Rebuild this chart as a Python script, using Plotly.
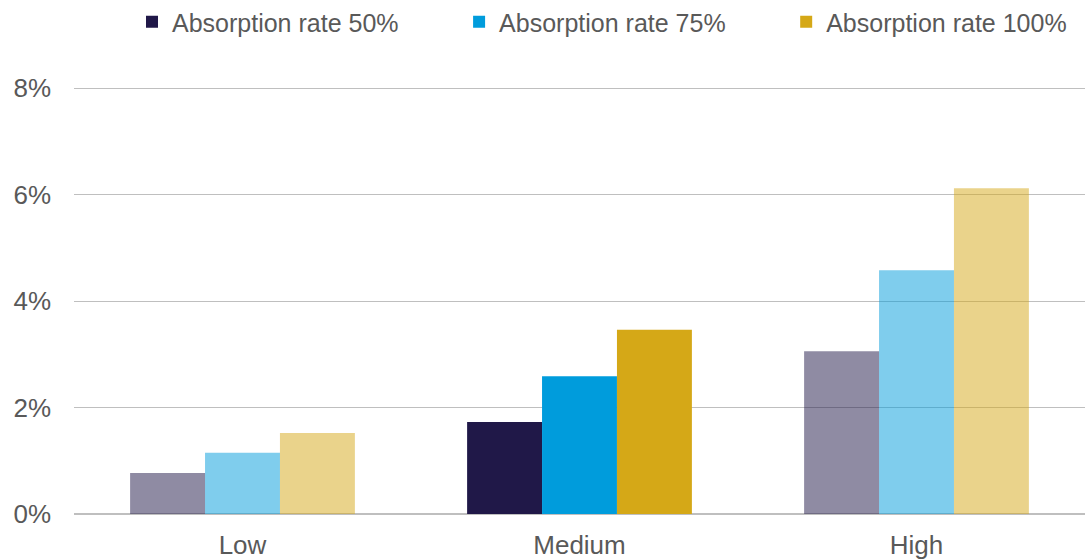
import plotly.graph_objects as go

categories = ["Low", "Medium", "High"]
series_names = ["Absorption rate 50%", "Absorption rate 75%", "Absorption rate 100%"]
rate_50 = [0.77, 1.73, 3.06]
rate_75 = [1.15, 2.59, 4.58]
rate_100 = [1.52, 3.46, 6.12]
tick_vals = [0, 2, 4, 6, 8]
tick_text = ["0%", "2%", "4%", "6%", "8%"]

base_rgb = [(32, 24, 72), (0, 156, 220), (213, 168, 23)]
point_alpha = [0.5, 1.0, 0.5]  # Low & High faded, Medium solid

FONT = "Liberation Sans, Arial, sans-serif"
TXT = "#595959"

# Feed the solid (Medium) point first so the legend swatch is the solid colour;
# the category axis still orders Low, Medium, High.
order = [1, 0, 2]
pad = "\u00a0" * 8

fig = go.Figure()
all_vals = [rate_50, rate_75, rate_100]
for k, (name, vals, rgb) in enumerate(zip(series_names, all_vals, base_rgb)):
    cols = [f"rgba({rgb[0]},{rgb[1]},{rgb[2]},{point_alpha[i]})" for i in order]
    label = name + (pad if k < len(series_names) - 1 else "")
    fig.add_trace(go.Bar(
        x=[categories[i] for i in order], y=[vals[i] for i in order], name=label,
        marker=dict(color=cols, line=dict(width=0)),
    ))

fig.update_layout(
    width=1085, height=559,
    margin=dict(l=74, r=0, t=84, b=45),
    paper_bgcolor="white", plot_bgcolor="white",
    barmode="group", bargap=0.333, bargroupgap=0,
    font=dict(family=FONT, color=TXT, size=26),
    showlegend=True,
    legend=dict(
        orientation="h", xref="container", yref="container",
        x=132 / 1085, xanchor="left", y=1 - 22 / 559, yanchor="middle",
        font=dict(size=25, color=TXT, family=FONT),
        itemwidth=30, traceorder="normal",
        bgcolor="rgba(0,0,0,0)",
    ),
    xaxis=dict(
        type="category", categoryorder="array", categoryarray=categories,
        showgrid=False, showline=False, zeroline=False,
        ticks="", tickfont=dict(size=26, color=TXT, family=FONT),
        ticklabelstandoff=13,
    ),
    yaxis=dict(
        range=[0, 8.08], tickvals=tick_vals, ticktext=tick_text,
        showgrid=True, gridcolor="#BFBFBF", gridwidth=1,
        zeroline=True, zerolinecolor="#BFBFBF", zerolinewidth=1.5,
        showline=False, ticks="",
        tickfont=dict(size=26, color=TXT, family=FONT),
        ticklabelstandoff=22,
    ),
)

fig.write_html("out.html")
